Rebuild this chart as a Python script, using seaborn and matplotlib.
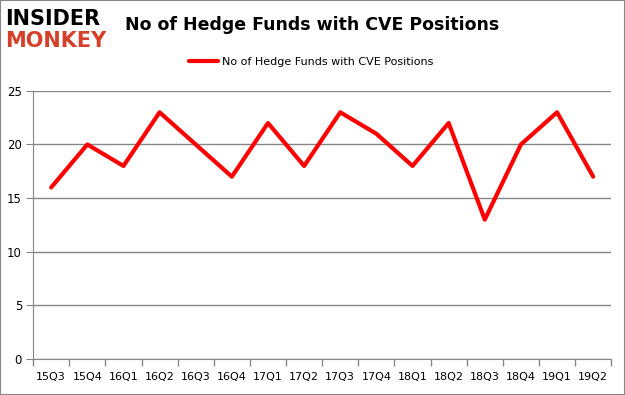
import numpy as np
import pandas as pd
import matplotlib.pyplot as plt
import seaborn as sns
from matplotlib.patches import Rectangle

quarters = ["15Q3", "15Q4", "16Q1", "16Q2", "16Q3", "16Q4", "17Q1", "17Q2",
            "17Q3", "17Q4", "18Q1", "18Q2", "18Q3", "18Q4", "19Q1", "19Q2"]
funds = [16, 20, 18, 23, 20, 17, 22, 18, 23, 21, 18, 22, 13, 20, 23, 17]
series_name = "No of Hedge Funds with CVE Positions"

df = pd.DataFrame({"pos": np.arange(len(quarters)), "funds": funds})

sns.set_style("white")
plt.rcParams["text.color"] = "black"
plt.rcParams["xtick.color"] = "black"
plt.rcParams["ytick.color"] = "black"

fig = plt.figure(figsize=(6.25, 3.95), dpi=100)
ax = fig.add_axes([0.053, 0.091, 0.925, 0.679])

sns.lineplot(x="pos", y="funds", data=df, ax=ax, color="#ff0000",
             linewidth=3, label=series_name)

ax.set_xlim(-0.5, len(quarters) - 0.5)
ax.set_ylim(0, 25)
ax.set_yticks([0, 5, 10, 15, 20, 25])
ax.yaxis.grid(True, color="#868686", linewidth=1)
ax.set_axisbelow(True)
ax.set_xticks(np.arange(len(quarters)))
ax.set_xticklabels(quarters)
ax.set_xticks(np.arange(-0.5, len(quarters)), minor=True)
ax.tick_params(axis="x", which="major", bottom=True, length=0, pad=9, labelsize=8)
ax.tick_params(axis="x", which="minor", bottom=True, length=5, color="#868686",
               direction="out", width=1)
ax.tick_params(axis="y", left=True, length=5, color="#868686", direction="out",
               labelsize=8.5, pad=3, labelcolor="black")
ax.tick_params(axis="x", labelcolor="black")
ax.set_xlabel("")
ax.set_ylabel("")
for side in ["top", "right"]:
    ax.spines[side].set_visible(False)
for side in ["left", "bottom"]:
    ax.spines[side].set_color("#868686")

leg = ax.legend(loc="center", bbox_to_anchor=(0.481, 1.107), frameon=False,
                fontsize=8, handlelength=2.6, handletextpad=0.3)
for t in leg.get_texts():
    t.set_color("black")

fig.text(0.5, 0.937, series_name, ha="center", va="center",
         fontsize=12.5, fontweight="bold", color="black")
fig.text(0.008, 0.953, "INSIDER", ha="left", va="center", fontsize=15,
         fontweight="heavy", color="black")
fig.text(0.008, 0.897, "MONKEY", ha="left", va="center", fontsize=15,
         fontweight="heavy", color="#d6402b")

fig.patches.append(Rectangle((0, 0), 1, 1, transform=fig.transFigure,
                             fill=False, edgecolor="#868686", linewidth=1.5))

plt.savefig("out.png")
plt.close()
